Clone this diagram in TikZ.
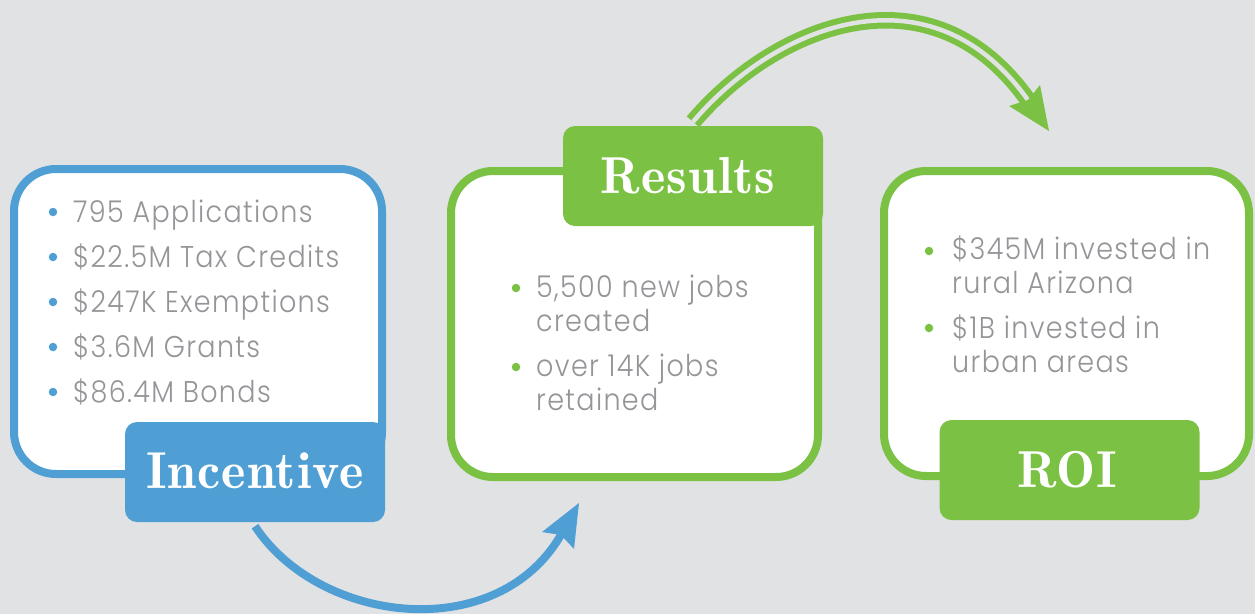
\documentclass[tikz,border=0pt]{standalone}
\usepackage{fontspec}
\usetikzlibrary{backgrounds}
\IfFontExistsTF{Poppins Light}
  {\newfontfamily\bodyfont{Poppins Light}[FakeStretch=0.9,LetterSpace=4.5]}
  {\newfontfamily\bodyfont{Poppins}[FakeStretch=0.9,LetterSpace=4.5]}
\newfontfamily\labfont{lmromandemi10-regular.otf}[LetterSpace=2]
\definecolor{bgc}{HTML}{E1E2E4}
\definecolor{iblue}{HTML}{4F9FD4}
\definecolor{igreen}{HTML}{7BC143}
\definecolor{tgray}{HTML}{939598}
\pgfdeclarelayer{arrowlayer}
\pgfsetlayers{background,arrowlayer,main}
\tikzset{
  card/.style={draw=#1, fill=white, line width=8pt, rounded corners=42pt, inner sep=0pt},
  tag/.style={fill=#1, rounded corners=12pt, inner sep=0pt, minimum width=260pt, minimum height=100pt},
  tagtext/.style={text=white, font=\labfont\fontsize{52}{52}\selectfont, inner sep=0pt, anchor=base},
  item/.style={text=tgray, font=\bodyfont\fontsize{30}{30}\selectfont, inner sep=0pt, anchor=base west},
  dot/.style={circle, fill=#1, inner sep=0pt, minimum size=8.5pt},
}
\begin{document}
\begin{tikzpicture}[x=1pt,y=-1pt]
\begin{scope}[on background layer]
\fill[bgc] (0,0) rectangle (1255,614);
\end{scope}
\useasboundingbox (0,0) rectangle (1255,614);

% cards
\node[card=iblue, minimum width=368pt, minimum height=305pt] (c1) at (198,321.5) {};
\node[card=igreen, minimum width=367pt, minimum height=306pt] (c2) at (634.5,324) {};
\node[card=igreen, minimum width=365pt, minimum height=305pt] (c3) at (1066.5,323.5) {};

% tags
\node[tag=iblue] (l1) at (255,472) {};
\node[tagtext] (l1t) at (255,488) {Incentive};
\node[tag=igreen] (l2) at (693,176) {};
\node[tagtext] (l2t) at (688,193) {Results};
\node[tag=igreen] (l3) at (1069.5,470) {};
\node[tagtext] (l3t) at (1067,487) {ROI};

% card 1 items
\node[dot=iblue] (b11) at (53,212) {};
\node[item] (i11) at (73,222) {795 Applications};
\node[dot=iblue] (b12) at (53,257) {};
\node[item] (i12) at (73,267) {\$22.5M Tax Credits};
\node[dot=iblue] (b13) at (53,302) {};
\node[item] (i13) at (73,312) {\$247K Exemptions};
\node[dot=iblue] (b14) at (53,347) {};
\node[item] (i14) at (73,357) {\$3.6M Grants};
\node[dot=iblue] (b15) at (53,392) {};
\node[item] (i15) at (73,402) {\$86.4M Bonds};

% card 2 items
\node[dot=igreen] (b21) at (516,288) {};
\node[item] (i21) at (536,297) {5,500 new jobs};
\node[item] (i21b) at (536,331) {created};
\node[dot=igreen] (b22) at (516,367) {};
\node[item] (i22) at (536,376) {over 14K jobs};
\node[item] (i22b) at (536,410) {retained};

% card 3 items
\node[dot=igreen] (b31) at (929,251) {};
\node[item] (i31) at (952,259) {\$345M invested in};
\node[item] (i31b) at (952,293) {rural Arizona};
\node[dot=igreen] (b32) at (929,328) {};
\node[item] (i32) at (952,338) {\$1B invested in};
\node[item] (i32b) at (952,372) {urban areas};

% arrows
\coordinate (ea) at (562,533);
\coordinate (eb) at (1030,103);
\begin{pgfonlayer}{arrowlayer}
\draw[iblue, line width=8pt] ([yshift=-4pt]l1.south) .. controls (320,625) and (499,645.5) .. (ea);
\fill[iblue] (579,503) -- (542,532) -- (561,535) -- (574,549) -- cycle;
\draw[igreen, line width=6pt, double=bgc, double distance=4.5pt] ([yshift=4pt]l2.north) .. controls (775,25) and (932,-39) .. (eb);
\fill[igreen] (1049,131) -- (1009,106) -- (1028,100) -- (1040,85) -- cycle;
\end{pgfonlayer}
\end{tikzpicture}
\end{document}
